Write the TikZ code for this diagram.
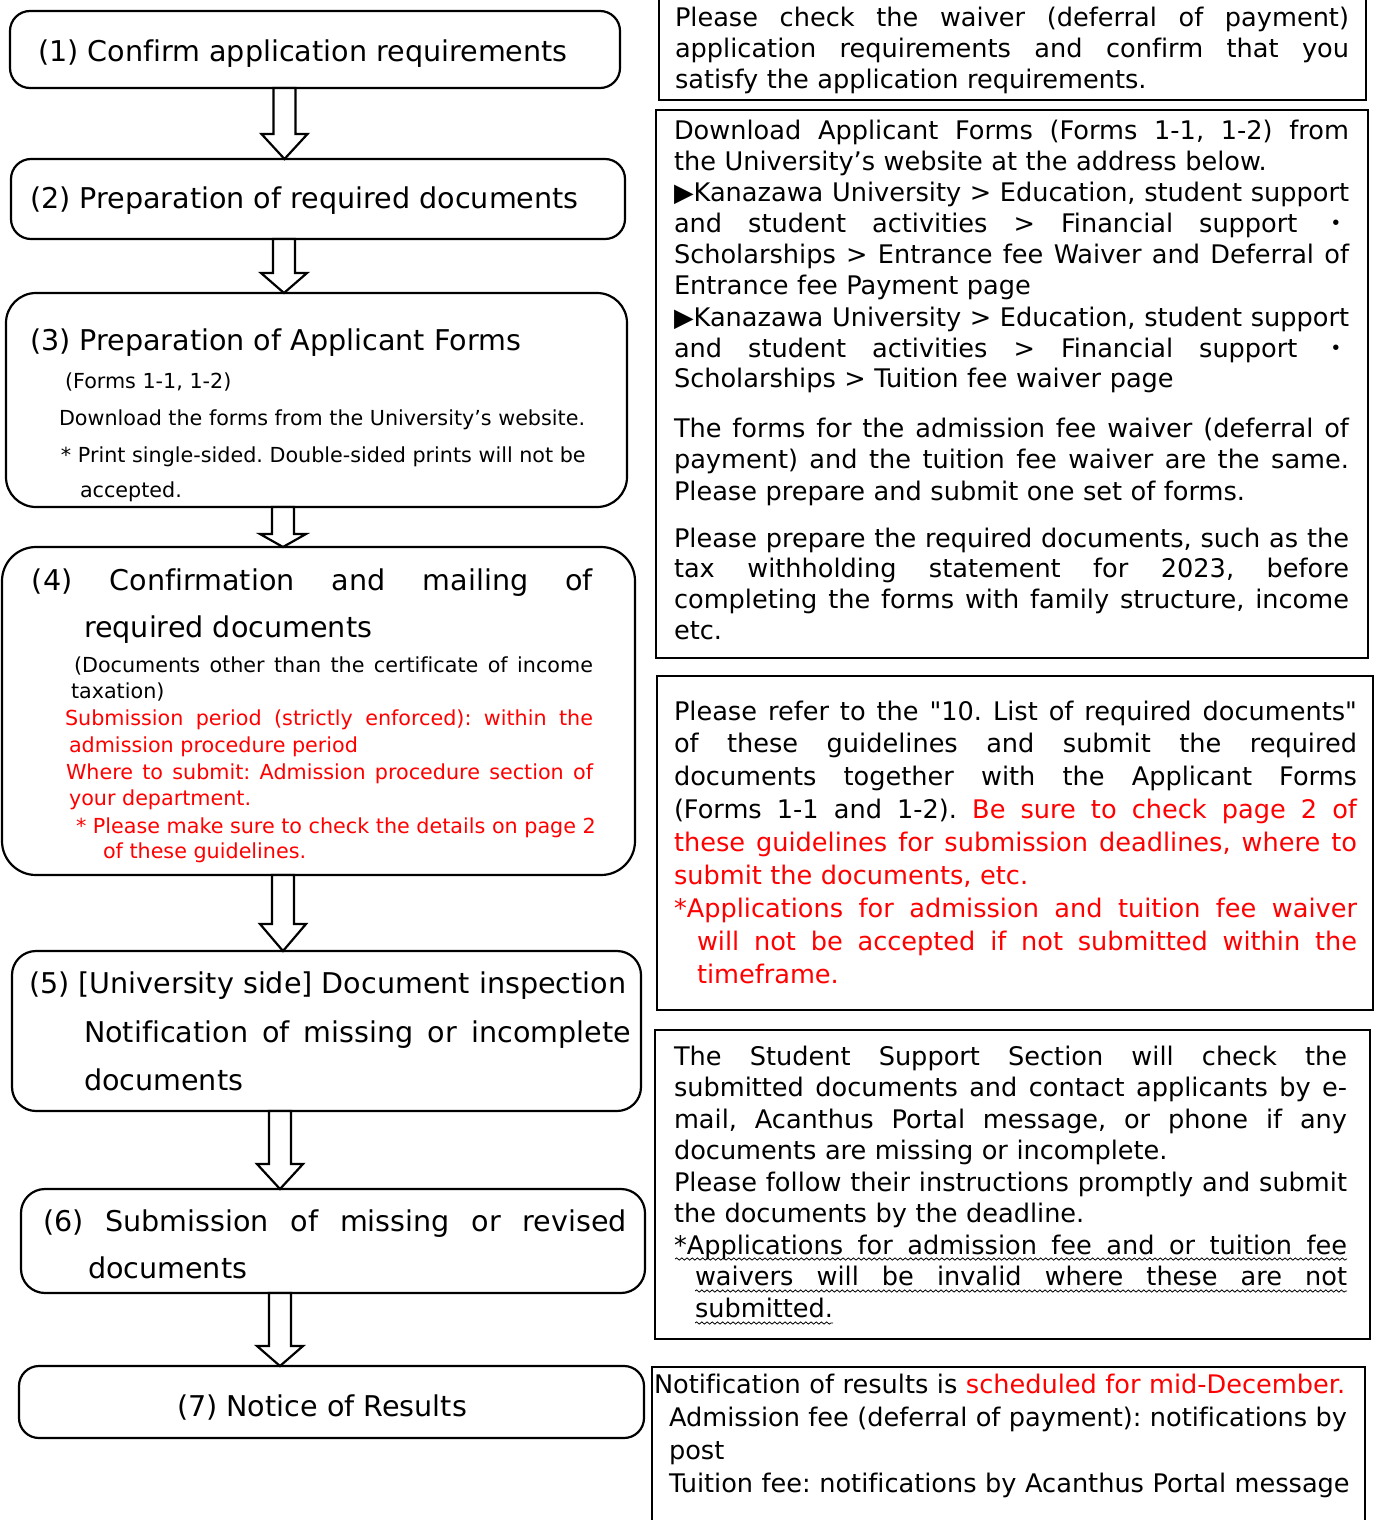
\documentclass[tikz,border=0pt]{standalone}
\usepackage{fontspec}
\setmainfont{DejaVu Sans}[Ligatures=NoCommon]
\newfontfamily\cjk{Noto Sans CJK JP}
\font\qf="DejaVu Sans" at 12.8pt
\usetikzlibrary{calc,fit,decorations.pathmorphing}
\newlength\jw
\newcommand\J[1]{\leavevmode\hbox to\jw{\spaceskip=0pt\xspaceskip=0pt #1}}
\newcommand\JI[2]{\leavevmode\hspace*{#1}\hbox to\dimexpr\jw-#1\relax{\spaceskip=0pt\xspaceskip=0pt #2}}
\newcommand\midd{{\cjk ・}}
\newcommand\qq{{\qf"}}
\newcommand\barrow[3]{%
  \draw[blockarrow] let \p1=(#2), \p2=(#3) in
  (\x1-5.5pt,\y1) -- (\x1-5.5pt,\y2+#1) -- (\x1-11.5pt,\y2+#1) -- (\x1,\y2)
  -- (\x1+11.5pt,\y2+#1) -- (\x1+5.5pt,\y2+#1) -- (\x1+5.5pt,\y1) -- cycle;}
\tikzset{
  lbox/.style={draw, line width=1.1pt, inner sep=0pt, outer sep=0pt},
  rbox/.style={draw, line width=1.1pt, inner sep=0pt, outer sep=0pt},
  txt/.style={anchor=base west, inner sep=0pt, outer sep=0pt},
  big/.style={font=\fontsize{14.3}{17}\selectfont},
  small/.style={font=\fontsize{10.35}{13}\selectfont},
  body/.style={font=\fontsize{12.8}{15.5}\selectfont},
  blockarrow/.style={draw, line width=1.1pt, fill=white, line join=miter},
  wavy/.style={decorate, decoration={snake, amplitude=0.55pt, segment length=2.6pt}, line width=0.4pt}
}
\begin{document}
\frenchspacing
\begin{tikzpicture}[x=0.5pt,y=-0.5pt]
\path[fill=white,use as bounding box] (0,0) rectangle (1376,1520);

% ---------- left boxes ----------
\node[lbox, rounded corners=10pt, fit={(10,11) (620,88)}] (b1) {};
\node[lbox, rounded corners=10pt, fit={(11,159) (625,239)}] (b2) {};
\node[lbox, rounded corners=15pt, fit={(6,293) (627,507)}] (b3) {};
\node[lbox, rounded corners=17pt, fit={(2,547) (635,875)}] (b4) {};
\node[lbox, rounded corners=12pt, fit={(12,951) (641,1111)}] (b5) {};
\node[lbox, rounded corners=12pt, fit={(21,1189) (645,1293)}] (b6) {};
\node[lbox, rounded corners=10pt, fit={(19,1366) (644,1438)}] (b7) {};

% ---------- arrows ----------
\coordinate (ax1) at (284.5,0);
\coordinate (ax2) at (284,0);
\coordinate (ax3) at (283,0);
\coordinate (ax4) at (283,0);
\coordinate (ax5) at (280,0);
\coordinate (ax6) at (280,0);
\barrow{12.5pt}{b1.south -| ax1}{b2.north -| ax1}
\barrow{10pt}{b2.south -| ax2}{b3.north -| ax2}
\barrow{6.5pt}{b3.south -| ax3}{b4.north -| ax3}
\barrow{13.5pt}{b4.south -| ax4}{b5.north -| ax4}
\barrow{12.5pt}{b5.south -| ax5}{b6.north -| ax5}
\barrow{10pt}{b6.south -| ax6}{b7.north -| ax6}

% ---------- left texts ----------
\node[txt, big] (t1) at (38,62) {(1) Confirm application requirements};
\node[txt, big] (t2) at (30,208) {(2) Preparation of required documents};

\node[txt, big] (t3a) at (30,350) {(3) Preparation of Applicant Forms};
\node[txt, small] (t3b) at (65,388) {(Forms 1-1, 1-2)};
\node[txt, small] (t3c) at (59,425) {Download the forms from the University’s website.};
\node[txt, small] (t3d) at (61,462) {* Print single-sided. Double-sided prints will not be};
\node[txt, small] (t3e) at (80,497) {accepted.};

\node[txt, big] (t4a) at (32,590) {\hbox to 280.5pt{(4) Confirmation and mailing of}};
\node[txt, big] (t4b) at (84,637) {required documents};
\node[txt, small] (t4c) at (74,672) {\hbox to 259.5pt{(Documents other than the certificate of income}};
\node[txt, small] (t4d) at (71,698) {taxation)};
\node[txt, small, text=red] (t4e) at (65,725) {\hbox to 264pt{Submission period (strictly enforced): within the}};
\node[txt, small, text=red] (t4f) at (69,752) {admission procedure period};
\node[txt, small, text=red] (t4g) at (66,779) {\hbox to 263.5pt{Where to submit: Admission procedure section of}};
\node[txt, small, text=red] (t4h) at (69,805) {your department.};
\node[txt, small, text=red] (t4i) at (76,833) {* Please make sure to check the details on page 2};
\node[txt, small, text=red] (t4j) at (103,858) {of these guidelines.};

\node[txt, big] (t5a) at (29,993) {(5) [University side] Document inspection};
\node[txt, big] (t5b) at (84,1042) {\hbox to 273.5pt{Notification of missing or incomplete}};
\node[txt, big] (t5c) at (84,1090) {documents};

\node[txt, big] (t6a) at (43,1231) {\hbox to 292pt{(6) Submission of missing or revised}};
\node[txt, big] (t6b) at (88,1278) {documents};

\node[txt, big] (t7) at (177,1416) {(7) Notice of Results};

% ---------- right boxes ----------
\node[rbox, fit={(659,-10) (1366,100)}] (r1) {};
\node[rbox, fit={(656,110) (1368,658)}] (r2) {};
\node[rbox, line width=1.4pt, fit={(657,676) (1373,1010)}] (r3) {};
\node[rbox, fit={(655,1030) (1370,1339)}] (r4) {};
\node[rbox, fit={(652,1367) (1365,1535)}] (r5) {};

\node[txt, body, text width=345pt, align=left] (p1) at (675,27) {%
\setlength\jw{337pt}%
\J{Please check the waiver (deferral of payment)}\\
\J{application requirements and confirm that you}\\
satisfy the application requirements.};

\node[txt, body, text width=345pt, align=left] (p2) at (674,140) {%
\setlength\jw{337.5pt}%
\J{Download Applicant Forms (Forms 1-1, 1-2) from}\\
the University’s website at the address below.\\
\J{▶Kanazawa University > Education, student support}\\
\J{and student activities > Financial support \midd}\\
\J{Scholarships > Entrance fee Waiver and Deferral of}\\
Entrance fee Payment page\\
\J{▶Kanazawa University > Education, student support}\\
\J{and student activities > Financial support \midd}\\
Scholarships > Tuition fee waiver page\\[9.5pt]
\J{The forms for the admission fee waiver (deferral of}\\
\J{payment) and the tuition fee waiver are the same.}\\
Please prepare and submit one set of forms.\\[8pt]
\J{Please prepare the required documents, such as the}\\
\J{tax withholding statement for 2023, before}\\
\J{completing the forms with family structure, income}\\
etc.};

\node[txt, font=\fontsize{12.8}{16.45}\selectfont, text width=345pt, align=left] (p3) at (674,720) {%
\setlength\jw{341.5pt}%
\J{Please refer to the \qq10. List of required documents\qq}\\
\J{of these guidelines and submit the required}\\
\J{documents together with the Applicant Forms}\\
\J{(Forms 1-1 and 1-2). \textcolor{red}{Be sure to check page 2 of}}\\
\color{red}%
\J{these guidelines for submission deadlines, where to}\\
submit the documents, etc.\\
\J{*Applications for admission and tuition fee waiver}\\
\JI{11.5pt}{will not be accepted if not submitted within the}\\
\hspace*{11.5pt}timeframe.};

\node[txt, font=\fontsize{12.8}{15.75}\selectfont, text width=345pt, align=left] (p4) at (674,1065) {%
\setlength\jw{336.5pt}%
\J{The Student Support Section will check the}\\
\J{submitted documents and contact applicants by e-}\\
\J{mail, Acanthus Portal message, or phone if any}\\
documents are missing or incomplete.\\
\J{Please follow their instructions promptly and submit}\\
the documents by the deadline.\\
\J{*Applications for admission fee and or tuition fee}\\
\JI{10.5pt}{waivers will be invalid where these are not}\\
\hspace*{10.5pt}submitted.};

\draw[wavy] (675,1259) -- (1347,1259);
\draw[wavy] (695,1291) -- (1347,1291);
\draw[wavy] (695,1323) -- (833,1323);

\node[txt, font=\fontsize{12.8}{16.5}\selectfont, text width=360pt, align=left] (p5) at (654,1393) {%
Notification of results is \textcolor{red}{scheduled for mid-December.}\\
\hspace*{7.5pt}\hbox to 339pt{\spaceskip=0pt\xspaceskip=0pt Admission fee (deferral of payment): notifications by}\\
\hspace*{7.5pt}post\\
\hspace*{7.5pt}Tuition fee: notifications by Acanthus Portal message};

\end{tikzpicture}
\end{document}
